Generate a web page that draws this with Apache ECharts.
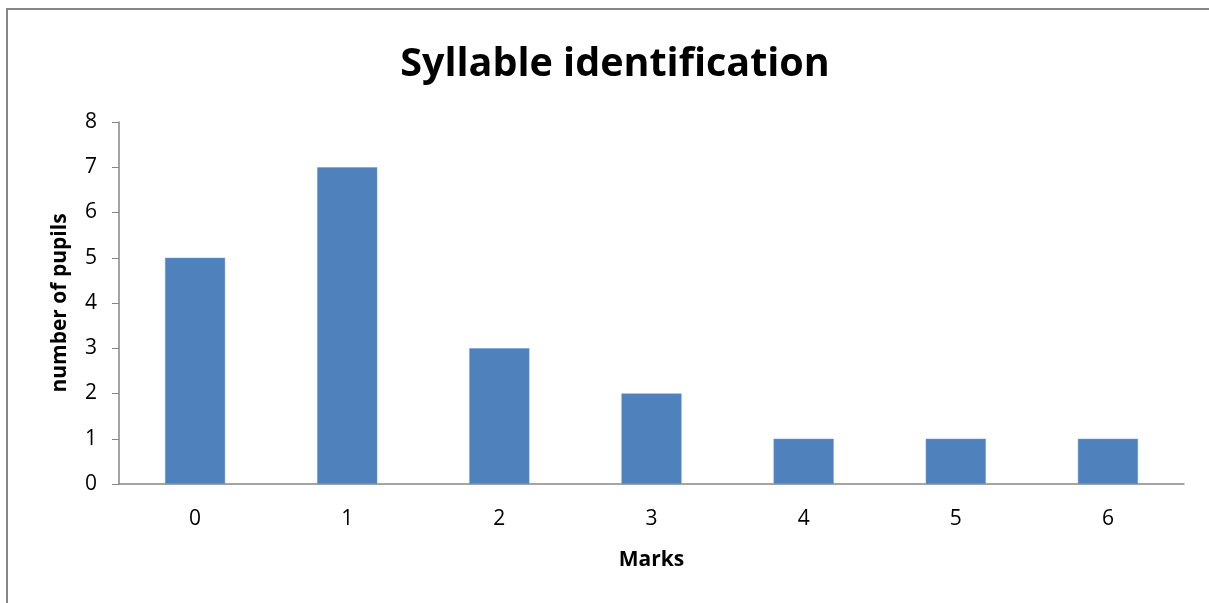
<!DOCTYPE html>
<html lang="en">
<head>
	<meta charset="UTF-8">
	<title>Syllable identification</title>
	<script src="https://cdn.jsdelivr.net/npm/echarts@6/dist/echarts.min.js"></script>
	<style>
		html, body { margin: 0; padding: 0; background: #fff; }
		.box { width: 1209px; height: 603px; }
	</style>
</head>
<body>
	<div class="box" id="main"></div>
	<script>
		let marks = ['0', '1', '2', '3', '4', '5', '6'];
		let pupils = [5, 7, 3, 2, 1, 1, 1];
		let yTicks = [0, 1, 2, 3, 4, 5, 6, 7, 8];

		let chart = echarts.init(document.getElementById('main'));
		let font = '"Open Sans", "Liberation Sans", sans-serif';
		let options = {
			animation: false,
			title: {
				text: 'Syllable identification',
				left: 610,
				textAlign: 'center',
				top: 40,
				textStyle: { fontFamily: font, fontWeight: 'bold', fontSize: 39.5, color: '#000' }
			},
			graphic: [{
				type: 'rect',
				shape: { x: 7, y: 9, width: 1300, height: 700 },
				style: { fill: 'none', stroke: '#868686', lineWidth: 2 },
				silent: true
			}],
			grid: { left: 119, right: 25, top: 122, bottom: 119 },
			xAxis: {
				type: 'category',
				data: marks,
				name: 'Marks',
				nameLocation: 'middle',
				nameGap: 66,
				nameTextStyle: { fontFamily: font, fontWeight: 'bold', fontSize: 21, color: '#000' },
				axisLine: { lineStyle: { color: '#868686', width: 1.5 } },
				axisTick: { show: false },
				axisLabel: { fontFamily: font, fontSize: 21, color: '#000', margin: 25 }
			},
			yAxis: {
				type: 'value',
				min: yTicks[0],
				max: yTicks[yTicks.length - 1],
				interval: 1,
				name: 'number of pupils',
				nameLocation: 'middle',
				nameGap: 48,
				nameTextStyle: { fontFamily: font, fontWeight: 'bold', fontSize: 21, color: '#000' },
				axisLine: { show: true, lineStyle: { color: '#868686', width: 1.5 } },
				axisTick: { show: true, length: 7, lineStyle: { color: '#868686' } },
				axisLabel: { fontFamily: font, fontSize: 21, color: '#000', margin: 22 },
				splitLine: { show: false }
			},
			series: [{
				type: 'bar',
				data: pupils,
				barWidth: '39.5%',
				itemStyle: { color: '#4F81BD', borderColor: '#6a9bd6', borderWidth: 0.5 }
			}]
		};
		chart.setOption(options);
	</script>
</body>
</html>
